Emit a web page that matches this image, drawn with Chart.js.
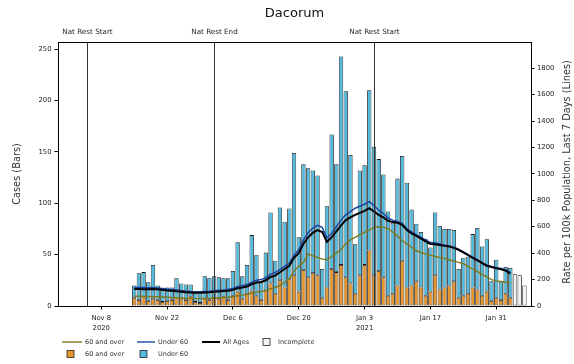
<!DOCTYPE html>
<html>
<head>
<meta charset="utf-8">
<script src="https://cdn.jsdelivr.net/npm/chart.js@4.4.1/dist/chart.umd.min.js"></script>
<style>
  html, body { margin: 0; padding: 0; background: #fff; }
  canvas { display: block; }
</style>
</head>
<body>
<canvas id="chart" width="574" height="364"></canvas>
<script>
// Day numbers count from Nov 8 2020 (day 0)
const firstBarDay = 7; // Nov 15
const tickDays = [0, 14, 28, 42, 56, 70, 84];
const tickLabels = [['Nov 8', '2020'], 'Nov 22', 'Dec 6', 'Dec 20', ['Jan 3', '2021'], 'Jan 17', 'Jan 31'];
const caseTicks = [0, 50, 100, 150, 200, 250];
const rateTicks = [0, 200, 400, 600, 800, 1000, 1200, 1400, 1600, 1800];

const restrictionDays = [-3, 24, 58];
const restrictionLabels = ['Nat Rest Start', 'Nat Rest End', 'Nat Rest Start'];

// Daily cases, Nov 15 - Feb 3
const cases60Plus = [
  8, 6, 9, 5, 7, 6, 4, 5, 6, 8, 7, 6, 9, 4, 3, 7,
  6, 8, 7, 9, 6, 10, 14, 7, 12, 15, 10, 6, 15, 22, 12, 25, 18, 26, 30, 14, 35, 28, 32, 30, 8, 18, 36, 33, 40, 28, 22,
  12, 30, 40, 54, 30, 34, 28, 10, 12, 20, 44, 18, 20, 24, 18, 10, 14, 30, 16, 18, 20, 24, 8, 10, 12, 18, 16, 10, 14, 5, 8,
  6, 12, 8
];
const casesUnder60 = [
  12, 26, 24, 18, 33, 14, 13, 13, 12, 19, 15, 15, 12, 10, 11, 22,
  21, 21, 21, 18, 21, 24, 48, 22, 28, 54, 40, 17, 37, 69, 32, 71, 64, 69, 119, 53, 103, 106, 100, 97, 28, 79, 131, 105, 203, 181, 125,
  48, 102, 97, 156, 125, 109, 100, 82, 69, 104, 102, 102, 74, 56, 54, 55, 43, 61, 62, 57, 55, 50, 28, 37, 36, 52, 60, 48, 51, 19, 37,
  18, 26, 29
];
// Feb 4 - Feb 6
const casesIncomplete = [31, 30, 20];

// Rate per 100k, last 7 days, Nov 15 - Feb 3
const rate60Plus = [
  75, 74, 73, 72, 70, 70, 68, 66, 64, 62, 60, 58, 57, 56, 56, 57,
  58, 60, 62, 64, 66, 70, 78, 82, 88, 98, 105, 110, 118, 130, 140, 155, 180, 205, 266, 300, 330, 395, 380, 367, 355, 350, 375, 400, 430, 470, 500,
  520, 540, 557, 575, 595, 600, 595, 585, 560, 530, 494, 470, 445, 418, 405, 393, 385, 375, 368, 360, 350, 340, 330, 320, 300, 280, 260, 240, 220, 200, 190,
  185, 180, 175
];
const rateUnder60 = [
  140, 141, 140, 139, 140, 137, 133, 128, 124, 121, 117, 113, 110, 108, 108, 110,
  112, 116, 119, 122, 126, 133, 148, 153, 162, 180, 195, 200, 214, 240, 252, 278, 300, 325, 385, 425, 500, 555, 590, 610, 595, 515, 550, 600, 650, 690, 715,
  740, 755, 770, 790, 760, 725, 700, 665, 650, 640, 625, 585, 560, 540, 520, 500, 480, 478, 470, 462, 455, 445, 430, 410, 390, 370, 350, 330, 310, 300, 290,
  284, 275, 255
];
const rateAllAges = [
  128, 128, 127, 127, 128, 126, 122, 118, 115, 112, 108, 104, 102, 100, 100, 102,
  104, 108, 110, 113, 116, 122, 135, 140, 148, 165, 178, 182, 195, 220, 230, 255, 280, 305, 365, 400, 470, 520, 555, 575, 560, 485, 520, 565, 610, 650, 670,
  690, 705, 720, 740, 715, 690, 670, 645, 635, 630, 615, 575, 550, 530, 510, 490, 470, 468, 462, 455, 450, 440, 425, 405, 385, 365, 345, 325, 305, 295, 285,
  278, 268, 245
];

const FONT = '"DejaVu Sans", sans-serif';
const colors = {
  old: '#e6962f',
  young: '#55bbdc',
  oldLine: '#7c7a1c',
  youngLine: '#1d46a3',
  all: '#000000'
};

const toPoints = (values, start) => values.map((v, i) => ({ x: start + i, y: v }));

// Vertical lines, labels, frame, right title and legend
const extras = {
  id: 'extras',
  afterDatasetsDraw(chart) {
    const { ctx, chartArea: a, scales: { x } } = chart;
    ctx.save();
    ctx.strokeStyle = '#333';
    ctx.lineWidth = 1;
    ctx.fillStyle = '#222';
    ctx.font = '7.2px ' + FONT;
    ctx.textAlign = 'center';
    ctx.textBaseline = 'middle';
    restrictionDays.forEach((d, i) => {
      const px = Math.round(x.getPixelForValue(d)) + 0.5;
      ctx.beginPath();
      ctx.moveTo(px, a.top);
      ctx.lineTo(px, a.bottom);
      ctx.stroke();
      ctx.fillText(restrictionLabels[i], px, a.top - 10);
    });
    // top spine
    ctx.strokeStyle = '#000';
    ctx.beginPath();
    ctx.moveTo(a.left, a.top + 0.5);
    ctx.lineTo(a.right, a.top + 0.5);
    ctx.stroke();
    ctx.restore();
  },
  afterDraw(chart) {
    const { ctx } = chart;
    ctx.save();
    // right axis title, reads bottom to top
    ctx.fillStyle = '#333';
    ctx.font = '9.8px ' + FONT;
    ctx.textAlign = 'center';
    ctx.textBaseline = 'middle';
    ctx.translate(567, 172);
    ctx.rotate(-Math.PI / 2);
    ctx.fillText('Rate per 100k Population, Last 7 Days (Lines)', 0, 0);
    ctx.restore();

    // legend
    ctx.save();
    ctx.font = '6.5px ' + FONT;
    ctx.textBaseline = 'middle';
    const row1 = 342, row2 = 354;
    const lineItem = (x0, x1, y, color, width, text) => {
      ctx.strokeStyle = color;
      ctx.lineWidth = width;
      ctx.beginPath();
      ctx.moveTo(x0, y);
      ctx.lineTo(x1, y);
      ctx.stroke();
      ctx.fillStyle = '#333';
      ctx.fillText(text, x1 + 3, y);
    };
    const boxItem = (bx, tx, y, color, text) => {
      ctx.fillStyle = color;
      ctx.fillRect(bx, y - 3.5, 7, 7);
      ctx.strokeStyle = '#222';
      ctx.lineWidth = 0.8;
      ctx.strokeRect(bx, y - 3.5, 7, 7);
      ctx.fillStyle = '#333';
      ctx.fillText(text, tx, y);
    };
    lineItem(62, 82, row1, colors.oldLine, 1.4, '60 and over');
    lineItem(137, 155, row1, colors.youngLine, 1.4, 'Under 60');
    lineItem(202, 220, row1, colors.all, 2, 'All Ages');
    boxItem(263, 278, row1, '#f4f4f4', 'Incomplete');
    boxItem(67, 85, row2, colors.old, '60 and over');
    boxItem(140, 158, row2, colors.young, 'Under 60');
    ctx.restore();
  }
};

const barStyle = {
  type: 'bar',
  yAxisID: 'y',
  stack: 'cases',
  borderColor: '#111',
  borderWidth: 0.8,
  borderSkipped: false,
  barPercentage: 0.92,
  categoryPercentage: 1
};

const lineStyle = {
  type: 'line',
  yAxisID: 'y2',
  pointRadius: 0,
  tension: 0,
  fill: false
};

const incompleteStart = firstBarDay + cases60Plus.length;

new Chart(document.getElementById('chart').getContext('2d'), {
  type: 'bar',
  data: {
    datasets: [
      { ...barStyle, label: '60 and over', data: toPoints(cases60Plus, firstBarDay), backgroundColor: colors.old, order: 1 },
      { ...barStyle, label: 'Under 60', data: toPoints(casesUnder60, firstBarDay), backgroundColor: colors.young, order: 2 },
      { ...barStyle, label: 'Incomplete', data: toPoints(casesIncomplete, incompleteStart), backgroundColor: '#f4f4f4', order: 3 },
      { ...lineStyle, label: '60 and over', data: toPoints(rate60Plus, firstBarDay), borderColor: colors.oldLine, borderWidth: 1.4, order: 0 },
      { ...lineStyle, label: 'Under 60', data: toPoints(rateUnder60, firstBarDay), borderColor: colors.youngLine, borderWidth: 1.5, order: 0 },
      { ...lineStyle, label: 'All Ages', data: toPoints(rateAllAges, firstBarDay), borderColor: colors.all, borderWidth: 2, order: -1 }
    ]
  },
  options: {
    responsive: false,
    animation: false,
    devicePixelRatio: 1,
    layout: { padding: { left: 0, right: 0, top: 0, bottom: 28 } },
    plugins: {
      legend: { display: false },
      tooltip: { enabled: false },
      title: {
        display: true,
        text: 'Dacorum',
        fullSize: false,
        color: '#111',
        font: { family: FONT, size: 13, weight: 'normal' },
        padding: { top: 6, bottom: 20.4 }
      }
    },
    scales: {
      x: {
        type: 'linear',
        min: -9.2,
        max: 91.4,
        offset: false,
        stacked: true,
        afterBuildTicks: (scale) => { scale.ticks = tickDays.map(v => ({ value: v })); },
        afterFit: (scale) => { scale.height = 30; },
        ticks: {
          color: '#222',
          font: { family: FONT, size: 6.8, lineHeight: 1.45 },
          padding: 3.5,
          maxRotation: 0,
          autoSkip: false,
          callback: (value, index) => tickLabels[index]
        },
        grid: { drawOnChartArea: false, drawTicks: true, tickLength: 3.5, color: '#000', offset: false },
        border: { color: '#000', width: 1 }
      },
      y: {
        position: 'left',
        min: 0,
        max: 257,
        stacked: true,
        afterBuildTicks: (scale) => { scale.ticks = caseTicks.map(v => ({ value: v })); },
        afterFit: (scale) => { scale.width = 58; },
        ticks: { color: '#222', font: { family: FONT, size: 6.8 }, padding: 3, autoSkip: false, callback: (v) => String(v) },
        grid: { drawOnChartArea: false, drawTicks: true, tickLength: 3.5, color: '#000' },
        border: { color: '#000', width: 1 },
        title: {
          display: true,
          text: 'Cases (Bars)',
          color: '#333',
          font: { family: FONT, size: 9.8 },
          padding: { top: 12, bottom: 0 }
        }
      },
      y2: {
        position: 'right',
        min: 0,
        max: 1998,
        afterBuildTicks: (scale) => { scale.ticks = rateTicks.map(v => ({ value: v })); },
        afterFit: (scale) => { scale.width = 43; },
        ticks: { color: '#222', font: { family: FONT, size: 6.8 }, padding: 2.5, autoSkip: false, callback: (v) => String(v) },
        grid: { drawOnChartArea: false, drawTicks: true, tickLength: 3.5, color: '#000' },
        border: { color: '#000', width: 1 }
      }
    }
  },
  plugins: [extras]
});
</script>
</body>
</html>
